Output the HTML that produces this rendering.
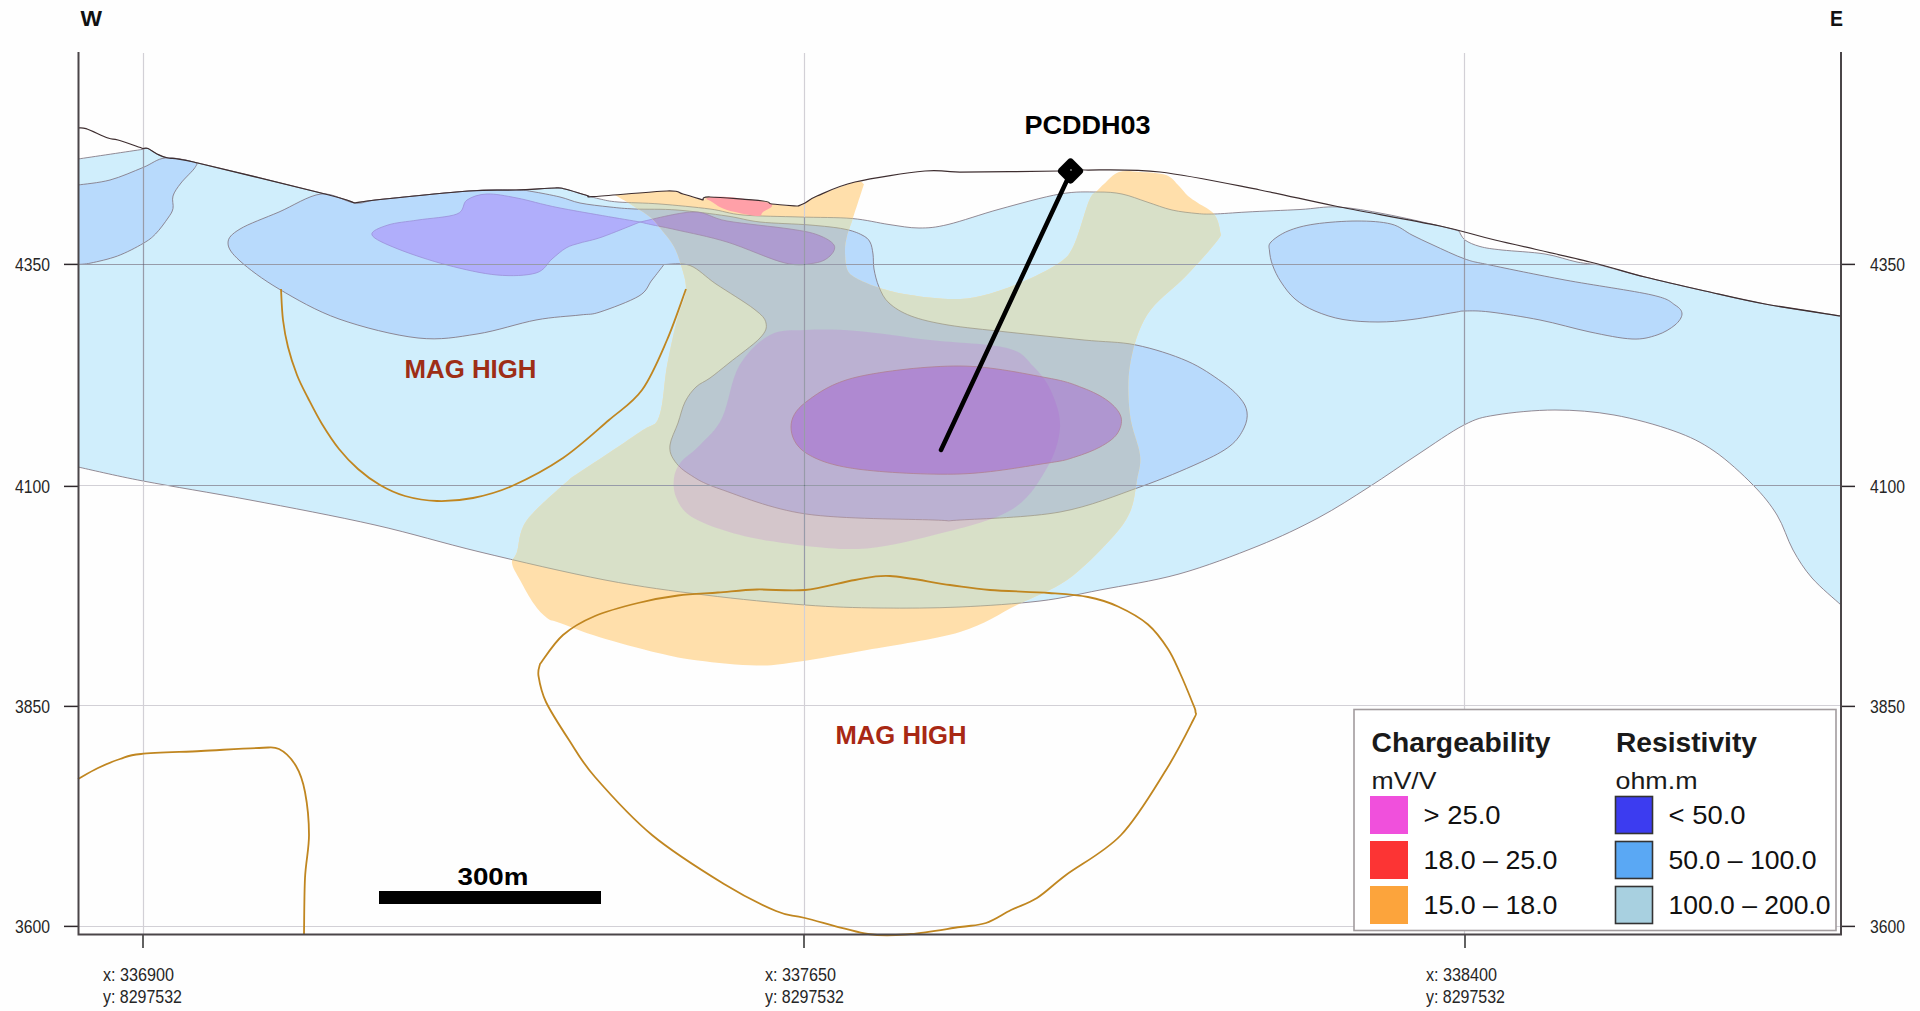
<!DOCTYPE html>
<html><head><meta charset="utf-8"><style>
html,body{margin:0;padding:0;background:#fff;width:1920px;height:1011px;overflow:hidden}
svg{display:block}
text{font-family:"Liberation Sans", sans-serif}
</style></head><body>
<svg width="1920" height="1011" viewBox="0 0 1920 1011">
<rect width="1920" height="1011" fill="#fefefe"/>
<defs><clipPath id="oc"><path d="M615.0,195.0 C618.3,197.0 629.2,203.3 635.0,207.0 C640.8,210.7 645.8,213.5 650.0,217.0 C654.2,220.5 656.2,223.3 660.0,228.0 C663.8,232.7 669.7,239.3 673.0,245.0 C676.3,250.7 677.8,254.5 680.0,262.0 C682.2,269.5 686.5,280.3 686.0,290.0 C685.5,299.7 680.2,307.3 677.0,320.0 C673.8,332.7 670.0,349.8 667.0,366.0 C664.0,382.2 663.5,406.0 659.0,417.0 C654.5,428.0 654.7,421.8 640.0,432.0 C625.3,442.2 582.5,470.3 571.0,478.0 C563.7,485.0 536.0,507.7 527.0,520.0 C518.0,532.3 519.5,544.8 517.0,552.0 C514.5,559.2 511.5,558.3 512.0,563.0 C512.5,567.7 516.3,573.2 520.0,580.0 C523.7,586.8 529.5,597.7 534.0,604.0 C538.5,610.3 542.7,614.8 547.0,618.0 C551.3,621.2 551.3,619.8 560.0,623.0 C568.7,626.2 582.7,632.0 599.0,637.0 C615.3,642.0 641.5,649.1 658.0,653.0 C674.5,656.9 681.5,658.4 698.0,660.5 C714.5,662.6 740.0,665.3 757.0,665.5 C774.0,665.7 781.7,664.1 800.0,661.5 C818.3,658.9 840.3,654.9 867.0,650.0 C893.7,645.1 935.0,639.5 960.0,632.0 C985.0,624.5 999.2,613.7 1017.0,605.0 C1034.8,596.3 1051.5,590.8 1067.0,580.0 C1082.5,569.2 1099.5,551.3 1110.0,540.0 C1120.5,528.7 1125.5,522.0 1130.0,512.0 C1134.5,502.0 1135.3,489.5 1137.0,480.0 C1138.7,470.5 1141.2,465.8 1140.0,455.0 C1138.8,444.2 1131.7,430.0 1130.0,415.0 C1128.3,400.0 1127.2,381.7 1130.0,365.0 C1132.8,348.3 1137.8,329.7 1147.0,315.0 C1156.2,300.3 1173.3,289.3 1185.0,277.0 C1196.7,264.7 1211.2,248.7 1217.0,241.0 C1222.8,233.3 1220.5,235.5 1220.0,231.0 C1219.5,226.5 1217.7,218.7 1214.0,214.0 C1210.3,209.3 1202.3,206.0 1198.0,203.0 C1193.7,200.0 1191.2,198.8 1188.0,196.0 C1184.8,193.2 1182.7,189.5 1179.0,186.0 C1175.3,182.5 1172.5,177.3 1166.0,175.0 C1159.5,172.7 1147.8,172.5 1140.0,172.0 C1132.2,171.5 1125.0,170.0 1119.0,172.0 C1113.0,174.0 1107.7,180.8 1104.0,184.0 C1100.3,187.2 1099.5,188.2 1097.0,191.0 C1094.5,193.8 1092.8,192.0 1089.0,201.0 C1085.2,210.0 1079.0,234.7 1074.0,245.0 C1069.0,255.3 1068.0,256.7 1059.0,263.0 C1050.0,269.3 1033.0,277.5 1020.0,283.0 C1007.0,288.5 993.0,293.3 981.0,296.0 C969.0,298.7 960.8,299.3 948.0,299.0 C935.2,298.7 915.8,296.0 904.0,294.0 C892.2,292.0 885.0,289.7 877.0,287.0 C869.0,284.3 861.0,281.0 856.0,278.0 C851.0,275.0 848.8,273.7 847.0,269.0 C845.2,264.3 845.0,255.5 845.0,250.0 C845.0,244.5 845.7,241.3 847.0,236.0 C848.3,230.7 850.2,226.7 853.0,218.0 C855.8,209.3 862.2,189.7 864.0,184.0 C862.5,183.7 862.8,180.0 855.0,182.0 C847.2,184.0 825.3,192.5 817.0,196.0 C808.7,199.5 808.2,201.3 805.0,203.0 C801.8,204.7 803.5,205.8 798.0,206.0 C792.5,206.2 777.8,204.8 772.0,204.0 C766.2,203.2 773.3,202.2 763.0,201.0 C752.7,199.8 720.0,197.2 710.0,197.0 C700.0,196.8 707.5,200.5 703.0,200.0 C698.5,199.5 689.0,195.5 683.0,194.0 C677.0,192.5 678.3,190.8 667.0,191.0 C655.7,191.2 623.7,194.3 615.0,195.0 Z"/></clipPath><clipPath id="lband"><path d="M78.0,159.0 C88.8,157.4 132.2,150.9 143.0,149.3 C143.8,149.2 145.7,147.7 148.0,148.5 C150.3,149.3 153.7,152.4 157.0,154.0 C160.3,155.6 161.9,156.7 168.0,158.0 C174.1,159.3 167.3,156.0 193.5,162.0 C219.7,168.0 298.1,187.2 325.0,194.0 C351.9,200.8 350.0,201.5 355.0,203.0 C359.2,202.4 361.0,201.5 380.0,199.5 C399.0,197.5 446.3,192.6 469.0,191.0 C491.7,189.4 501.7,190.5 516.0,190.0 C530.3,189.5 546.8,188.2 555.0,188.0 C563.2,187.8 559.7,187.8 565.0,189.0 C570.3,190.2 581.2,193.8 587.0,195.5 C592.8,197.2 594.8,197.9 600.0,199.0 C605.2,200.1 608.0,201.2 618.0,202.0 C628.0,202.8 644.7,202.8 660.0,204.0 C675.3,205.2 696.2,207.2 710.0,209.0 C723.8,210.8 728.0,213.7 743.0,215.0 C758.0,216.3 781.8,216.4 800.0,217.0 C818.2,217.6 837.2,217.2 852.0,218.5 C866.8,219.8 877.8,222.9 889.0,224.5 C900.2,226.1 909.2,228.0 919.0,228.0 C928.8,228.0 934.5,227.7 948.0,224.5 C961.5,221.3 981.3,214.1 1000.0,209.0 C1018.7,203.9 1043.8,196.8 1060.0,194.0 C1076.2,191.2 1086.7,192.0 1097.0,192.0 C1107.3,192.0 1113.7,192.3 1122.0,194.0 C1130.3,195.7 1138.7,199.3 1147.0,202.0 C1155.3,204.7 1163.7,208.1 1172.0,210.0 C1180.3,211.9 1190.0,212.8 1197.0,213.5 C1204.0,214.2 1205.7,214.2 1214.0,214.0 C1222.3,213.8 1232.7,212.8 1247.0,212.0 C1261.3,211.2 1284.8,210.3 1300.0,209.5 C1315.2,208.7 1323.8,206.2 1338.0,207.0 C1352.2,207.8 1368.0,210.8 1385.0,214.0 C1402.0,217.2 1427.7,223.2 1440.0,226.0 C1452.3,228.8 1455.8,230.2 1459.0,231.0 C1460.0,232.5 1461.5,237.4 1465.0,240.0 C1468.5,242.6 1473.8,244.8 1480.0,246.5 C1486.2,248.2 1491.2,248.8 1502.0,250.0 C1512.8,251.2 1532.5,252.0 1545.0,254.0 C1557.5,256.0 1567.8,260.2 1577.0,262.0 C1586.2,263.8 1596.2,264.5 1600.0,265.0 C1607.5,267.0 1627.5,272.7 1645.0,277.0 C1662.5,281.3 1685.0,286.5 1705.0,291.0 C1725.0,295.5 1742.3,299.8 1765.0,304.0 C1787.7,308.2 1828.3,314.0 1841.0,316.0 C1841.0,364.2 1841.0,556.8 1841.0,605.0 C1836.2,600.5 1820.0,587.2 1812.0,578.0 C1804.0,568.8 1798.8,560.5 1793.0,550.0 C1787.2,539.5 1783.7,525.8 1777.0,515.0 C1770.3,504.2 1763.5,495.7 1753.0,485.0 C1742.5,474.3 1727.2,460.0 1714.0,451.0 C1700.8,442.0 1690.7,437.0 1674.0,431.0 C1657.3,425.0 1633.8,418.5 1614.0,415.0 C1594.2,411.5 1574.7,410.0 1555.0,410.0 C1535.3,410.0 1511.2,412.5 1496.0,415.0 C1480.8,417.5 1477.2,418.3 1464.0,425.0 C1450.8,431.7 1432.8,444.7 1417.0,455.0 C1401.2,465.3 1385.5,476.5 1369.0,487.0 C1352.5,497.5 1336.5,508.2 1318.0,518.0 C1299.5,527.8 1281.2,536.7 1258.0,546.0 C1234.8,555.3 1205.3,566.7 1179.0,574.0 C1152.7,581.3 1123.2,585.5 1100.0,590.0 C1076.8,594.5 1063.3,598.2 1040.0,601.0 C1016.7,603.8 986.7,605.8 960.0,607.0 C933.3,608.2 905.8,608.3 880.0,608.0 C854.2,607.7 834.2,607.2 805.0,605.0 C775.8,602.8 738.3,599.2 705.0,595.0 C671.7,590.8 642.5,587.2 605.0,580.0 C567.5,572.8 518.3,561.2 480.0,552.0 C441.7,542.8 413.3,533.7 375.0,525.0 C336.7,516.3 288.7,507.3 250.0,500.0 C211.3,492.7 171.7,486.5 143.0,481.0 C114.3,475.5 88.8,469.3 78.0,467.0 C78.0,415.7 78.0,210.3 78.0,159.0 Z"/></clipPath><clipPath id="plot"><rect x="78" y="52" width="1763" height="882"/></clipPath></defs>
<g clip-path="url(#plot)"><path d="M78.0,159.0 C88.8,157.4 132.2,150.9 143.0,149.3 C143.8,149.2 145.7,147.7 148.0,148.5 C150.3,149.3 153.7,152.4 157.0,154.0 C160.3,155.6 161.9,156.7 168.0,158.0 C174.1,159.3 167.3,156.0 193.5,162.0 C219.7,168.0 298.1,187.2 325.0,194.0 C351.9,200.8 350.0,201.5 355.0,203.0 C359.2,202.4 361.0,201.5 380.0,199.5 C399.0,197.5 446.3,192.6 469.0,191.0 C491.7,189.4 501.7,190.5 516.0,190.0 C530.3,189.5 546.8,188.2 555.0,188.0 C563.2,187.8 559.7,187.8 565.0,189.0 C570.3,190.2 581.2,193.8 587.0,195.5 C592.8,197.2 594.8,197.9 600.0,199.0 C605.2,200.1 608.0,201.2 618.0,202.0 C628.0,202.8 644.7,202.8 660.0,204.0 C675.3,205.2 696.2,207.2 710.0,209.0 C723.8,210.8 728.0,213.7 743.0,215.0 C758.0,216.3 781.8,216.4 800.0,217.0 C818.2,217.6 837.2,217.2 852.0,218.5 C866.8,219.8 877.8,222.9 889.0,224.5 C900.2,226.1 909.2,228.0 919.0,228.0 C928.8,228.0 934.5,227.7 948.0,224.5 C961.5,221.3 981.3,214.1 1000.0,209.0 C1018.7,203.9 1043.8,196.8 1060.0,194.0 C1076.2,191.2 1086.7,192.0 1097.0,192.0 C1107.3,192.0 1113.7,192.3 1122.0,194.0 C1130.3,195.7 1138.7,199.3 1147.0,202.0 C1155.3,204.7 1163.7,208.1 1172.0,210.0 C1180.3,211.9 1190.0,212.8 1197.0,213.5 C1204.0,214.2 1205.7,214.2 1214.0,214.0 C1222.3,213.8 1232.7,212.8 1247.0,212.0 C1261.3,211.2 1284.8,210.3 1300.0,209.5 C1315.2,208.7 1323.8,206.2 1338.0,207.0 C1352.2,207.8 1368.0,210.8 1385.0,214.0 C1402.0,217.2 1427.7,223.2 1440.0,226.0 C1452.3,228.8 1455.8,230.2 1459.0,231.0 C1460.0,232.5 1461.5,237.4 1465.0,240.0 C1468.5,242.6 1473.8,244.8 1480.0,246.5 C1486.2,248.2 1491.2,248.8 1502.0,250.0 C1512.8,251.2 1532.5,252.0 1545.0,254.0 C1557.5,256.0 1567.8,260.2 1577.0,262.0 C1586.2,263.8 1596.2,264.5 1600.0,265.0 C1607.5,267.0 1627.5,272.7 1645.0,277.0 C1662.5,281.3 1685.0,286.5 1705.0,291.0 C1725.0,295.5 1742.3,299.8 1765.0,304.0 C1787.7,308.2 1828.3,314.0 1841.0,316.0 C1841.0,364.2 1841.0,556.8 1841.0,605.0 C1836.2,600.5 1820.0,587.2 1812.0,578.0 C1804.0,568.8 1798.8,560.5 1793.0,550.0 C1787.2,539.5 1783.7,525.8 1777.0,515.0 C1770.3,504.2 1763.5,495.7 1753.0,485.0 C1742.5,474.3 1727.2,460.0 1714.0,451.0 C1700.8,442.0 1690.7,437.0 1674.0,431.0 C1657.3,425.0 1633.8,418.5 1614.0,415.0 C1594.2,411.5 1574.7,410.0 1555.0,410.0 C1535.3,410.0 1511.2,412.5 1496.0,415.0 C1480.8,417.5 1477.2,418.3 1464.0,425.0 C1450.8,431.7 1432.8,444.7 1417.0,455.0 C1401.2,465.3 1385.5,476.5 1369.0,487.0 C1352.5,497.5 1336.5,508.2 1318.0,518.0 C1299.5,527.8 1281.2,536.7 1258.0,546.0 C1234.8,555.3 1205.3,566.7 1179.0,574.0 C1152.7,581.3 1123.2,585.5 1100.0,590.0 C1076.8,594.5 1063.3,598.2 1040.0,601.0 C1016.7,603.8 986.7,605.8 960.0,607.0 C933.3,608.2 905.8,608.3 880.0,608.0 C854.2,607.7 834.2,607.2 805.0,605.0 C775.8,602.8 738.3,599.2 705.0,595.0 C671.7,590.8 642.5,587.2 605.0,580.0 C567.5,572.8 518.3,561.2 480.0,552.0 C441.7,542.8 413.3,533.7 375.0,525.0 C336.7,516.3 288.7,507.3 250.0,500.0 C211.3,492.7 171.7,486.5 143.0,481.0 C114.3,475.5 88.8,469.3 78.0,467.0 C78.0,415.7 78.0,210.3 78.0,159.0 Z" fill="#d0eefc" stroke="#7c6e7a" stroke-width="0.8" /><path d="M78.0,185.0 C83.3,184.2 99.2,182.9 110.0,180.0 C120.8,177.1 133.8,171.2 143.0,167.5 C152.2,163.8 156.6,158.9 165.0,158.0 C173.4,157.1 188.5,160.4 193.5,162.0 C198.5,163.6 197.1,164.0 195.0,167.5 C192.9,171.0 184.7,178.2 181.0,183.0 C177.3,187.8 174.3,191.8 173.0,196.0 C171.7,200.2 173.8,204.8 173.0,208.5 C172.2,212.2 170.9,213.8 168.0,218.0 C165.1,222.2 159.7,229.8 155.5,234.0 C151.3,238.2 149.3,239.8 143.0,243.5 C136.7,247.2 126.2,252.8 117.5,256.0 C108.8,259.2 97.6,261.6 91.0,263.0 C84.4,264.4 80.2,264.2 78.0,264.5 C78.0,251.2 78.0,198.2 78.0,185.0 Z" fill="#b8dafc" stroke="#7c6e7a" stroke-width="0.8" /><path d="M228.0,243.0 C228.0,237.7 231.5,234.2 240.0,229.0 C248.5,223.8 265.5,217.8 279.0,212.0 C292.5,206.2 308.3,195.5 321.0,194.0 C333.7,192.5 345.2,202.1 355.0,203.0 C364.8,203.9 361.0,201.5 380.0,199.5 C399.0,197.5 446.3,192.6 469.0,191.0 C491.7,189.4 505.5,189.9 516.0,190.0 C526.5,190.1 524.7,190.3 532.0,191.5 C539.3,192.7 552.0,195.1 560.0,197.0 C568.0,198.9 571.7,201.3 580.0,203.0 C588.3,204.7 600.8,206.0 610.0,207.0 C619.2,208.0 623.8,208.5 635.0,209.0 C646.2,209.5 661.7,208.8 677.0,210.0 C692.3,211.2 713.2,214.0 727.0,216.0 C740.8,218.0 746.2,220.5 760.0,222.0 C773.8,223.5 796.0,223.8 810.0,225.0 C824.0,226.2 835.3,227.3 844.0,229.0 C852.7,230.7 857.7,232.8 862.0,235.0 C866.3,237.2 868.2,238.8 870.0,242.0 C871.8,245.2 872.3,249.5 873.0,254.0 C873.7,258.5 873.0,263.5 874.0,269.0 C875.0,274.5 876.5,281.3 879.0,287.0 C881.5,292.7 883.7,298.2 889.0,303.0 C894.3,307.8 901.2,312.3 911.0,316.0 C920.8,319.7 932.0,322.3 948.0,325.0 C964.0,327.7 984.3,329.5 1007.0,332.0 C1029.7,334.5 1062.5,337.8 1084.0,340.0 C1105.5,342.2 1118.8,341.5 1136.0,345.0 C1153.2,348.5 1172.7,354.8 1187.0,361.0 C1201.3,367.2 1213.2,375.8 1222.0,382.0 C1230.8,388.2 1235.8,393.0 1240.0,398.0 C1244.2,403.0 1246.3,407.0 1247.0,412.0 C1247.7,417.0 1246.8,422.3 1244.0,428.0 C1241.2,433.7 1237.5,440.2 1230.0,446.0 C1222.5,451.8 1214.0,456.2 1199.0,463.0 C1184.0,469.8 1163.2,478.8 1140.0,487.0 C1116.8,495.2 1090.0,506.5 1060.0,512.0 C1030.0,517.5 981.0,518.7 960.0,520.0 C939.0,521.3 959.7,521.0 934.0,520.0 C908.3,519.0 841.7,519.2 806.0,514.0 C770.3,508.8 739.5,495.7 720.0,489.0 C700.5,482.3 696.7,478.8 689.0,474.0 C681.3,469.2 677.2,464.8 674.0,460.0 C670.8,455.2 669.3,451.2 670.0,445.0 C670.7,438.8 675.5,430.2 678.0,423.0 C680.5,415.8 682.0,408.0 685.0,402.0 C688.0,396.0 691.8,391.0 696.0,387.0 C700.2,383.0 704.5,382.0 710.0,378.0 C715.5,374.0 720.7,369.7 729.0,363.0 C737.3,356.3 753.8,344.7 760.0,338.0 C766.2,331.3 767.0,327.8 766.0,323.0 C765.0,318.2 762.3,315.5 754.0,309.0 C745.7,302.5 726.7,291.2 716.0,284.0 C705.3,276.8 698.7,268.8 690.0,265.5 C681.3,262.2 668.3,264.7 664.0,264.5 C662.0,267.1 656.2,274.8 652.0,280.0 C647.8,285.2 647.7,290.7 639.0,296.0 C630.3,301.3 609.8,308.8 600.0,312.0 C590.2,315.2 590.7,313.7 580.0,315.0 C569.3,316.3 553.2,316.8 536.0,320.0 C518.8,323.2 496.7,331.0 477.0,334.0 C457.3,337.0 441.0,340.5 418.0,338.0 C395.0,335.5 362.2,327.2 339.0,319.0 C315.8,310.8 295.5,298.7 279.0,289.0 C262.5,279.3 248.5,268.7 240.0,261.0 C231.5,253.3 228.0,248.3 228.0,243.0 Z" fill="#b8dafc" stroke="#7c6e7a" stroke-width="0.8" /><path d="M1271.0,242.0 C1274.1,238.7 1280.7,234.0 1288.0,231.0 C1295.3,228.0 1303.5,225.7 1315.0,224.0 C1326.5,222.3 1344.3,221.0 1357.0,221.0 C1369.7,221.0 1381.8,221.7 1391.0,224.0 C1400.2,226.3 1405.0,231.5 1412.0,235.0 C1419.0,238.5 1424.2,241.0 1433.0,245.0 C1441.8,249.0 1455.5,255.7 1465.0,259.0 C1474.5,262.3 1473.3,261.5 1490.0,265.0 C1506.7,268.5 1538.0,275.0 1565.0,280.0 C1592.0,285.0 1633.7,290.8 1652.0,295.0 C1670.3,299.2 1670.0,301.8 1675.0,305.0 C1680.0,308.2 1682.0,310.7 1682.0,314.0 C1682.0,317.3 1679.2,321.5 1675.0,325.0 C1670.8,328.5 1664.2,332.7 1657.0,335.0 C1649.8,337.3 1643.2,339.5 1632.0,339.0 C1620.8,338.5 1605.3,335.2 1590.0,332.0 C1574.7,328.8 1556.7,323.3 1540.0,320.0 C1523.3,316.7 1502.5,313.5 1490.0,312.0 C1477.5,310.5 1471.0,310.9 1465.0,311.0 C1459.0,311.1 1462.8,311.1 1454.0,312.5 C1445.2,313.9 1424.7,317.9 1412.0,319.5 C1399.3,321.1 1389.5,322.0 1378.0,322.0 C1366.5,322.0 1353.5,321.3 1343.0,319.5 C1332.5,317.7 1323.0,314.4 1315.0,311.0 C1307.0,307.6 1300.7,303.8 1295.0,299.0 C1289.3,294.2 1284.8,287.7 1281.0,282.0 C1277.2,276.3 1274.4,270.2 1272.5,265.0 C1270.6,259.8 1269.8,254.8 1269.5,251.0 C1269.2,247.2 1267.9,245.3 1271.0,242.0 Z" fill="#b8dafc" stroke="#7c6e7a" stroke-width="0.8" /><path d="M372.0,235.0 C370.3,231.0 380.3,227.5 388.0,225.0 C395.7,222.5 406.5,221.8 418.0,220.0 C429.5,218.2 448.8,217.3 457.0,214.0 C465.2,210.7 462.0,203.3 467.0,200.0 C472.0,196.7 478.7,194.3 487.0,194.0 C495.3,193.7 504.8,195.7 517.0,198.0 C529.2,200.3 539.5,204.0 560.0,208.0 C580.5,212.0 626.7,219.7 640.0,222.0 C648.8,220.3 678.5,212.2 693.0,212.0 C707.5,211.8 710.8,218.2 727.0,221.0 C743.2,223.8 774.8,226.7 790.0,229.0 C805.2,231.3 810.7,232.3 818.0,235.0 C825.3,237.7 832.0,241.5 834.0,245.0 C836.0,248.5 833.2,253.0 830.0,256.0 C826.8,259.0 822.5,261.8 815.0,263.0 C807.5,264.2 799.7,266.5 785.0,263.0 C770.3,259.5 745.0,247.5 727.0,242.0 C709.0,236.5 689.3,232.8 677.0,230.0 C664.7,227.2 659.2,226.3 653.0,225.0 C646.8,223.7 642.2,222.5 640.0,222.0 C633.7,224.5 612.0,233.5 602.0,237.0 C592.0,240.5 586.0,241.2 580.0,243.0 C574.0,244.8 570.7,245.3 566.0,248.0 C561.3,250.7 557.0,254.8 552.0,259.0 C547.0,263.2 545.2,270.3 536.0,273.0 C526.8,275.7 511.8,276.3 497.0,275.0 C482.2,273.7 463.5,269.3 447.0,265.0 C430.5,260.7 410.5,254.0 398.0,249.0 C385.5,244.0 373.7,239.0 372.0,235.0 Z" fill="#b0aefb" stroke="#9a90d8" stroke-width="0.8" /><path d="M615.0,195.0 C618.3,197.0 629.2,203.3 635.0,207.0 C640.8,210.7 645.8,213.5 650.0,217.0 C654.2,220.5 656.2,223.3 660.0,228.0 C663.8,232.7 669.7,239.3 673.0,245.0 C676.3,250.7 677.8,254.5 680.0,262.0 C682.2,269.5 686.5,280.3 686.0,290.0 C685.5,299.7 680.2,307.3 677.0,320.0 C673.8,332.7 670.0,349.8 667.0,366.0 C664.0,382.2 663.5,406.0 659.0,417.0 C654.5,428.0 654.7,421.8 640.0,432.0 C625.3,442.2 582.5,470.3 571.0,478.0 C563.7,485.0 536.0,507.7 527.0,520.0 C518.0,532.3 519.5,544.8 517.0,552.0 C514.5,559.2 511.5,558.3 512.0,563.0 C512.5,567.7 516.3,573.2 520.0,580.0 C523.7,586.8 529.5,597.7 534.0,604.0 C538.5,610.3 542.7,614.8 547.0,618.0 C551.3,621.2 551.3,619.8 560.0,623.0 C568.7,626.2 582.7,632.0 599.0,637.0 C615.3,642.0 641.5,649.1 658.0,653.0 C674.5,656.9 681.5,658.4 698.0,660.5 C714.5,662.6 740.0,665.3 757.0,665.5 C774.0,665.7 781.7,664.1 800.0,661.5 C818.3,658.9 840.3,654.9 867.0,650.0 C893.7,645.1 935.0,639.5 960.0,632.0 C985.0,624.5 999.2,613.7 1017.0,605.0 C1034.8,596.3 1051.5,590.8 1067.0,580.0 C1082.5,569.2 1099.5,551.3 1110.0,540.0 C1120.5,528.7 1125.5,522.0 1130.0,512.0 C1134.5,502.0 1135.3,489.5 1137.0,480.0 C1138.7,470.5 1141.2,465.8 1140.0,455.0 C1138.8,444.2 1131.7,430.0 1130.0,415.0 C1128.3,400.0 1127.2,381.7 1130.0,365.0 C1132.8,348.3 1137.8,329.7 1147.0,315.0 C1156.2,300.3 1173.3,289.3 1185.0,277.0 C1196.7,264.7 1211.2,248.7 1217.0,241.0 C1222.8,233.3 1220.5,235.5 1220.0,231.0 C1219.5,226.5 1217.7,218.7 1214.0,214.0 C1210.3,209.3 1202.3,206.0 1198.0,203.0 C1193.7,200.0 1191.2,198.8 1188.0,196.0 C1184.8,193.2 1182.7,189.5 1179.0,186.0 C1175.3,182.5 1172.5,177.3 1166.0,175.0 C1159.5,172.7 1147.8,172.5 1140.0,172.0 C1132.2,171.5 1125.0,170.0 1119.0,172.0 C1113.0,174.0 1107.7,180.8 1104.0,184.0 C1100.3,187.2 1099.5,188.2 1097.0,191.0 C1094.5,193.8 1092.8,192.0 1089.0,201.0 C1085.2,210.0 1079.0,234.7 1074.0,245.0 C1069.0,255.3 1068.0,256.7 1059.0,263.0 C1050.0,269.3 1033.0,277.5 1020.0,283.0 C1007.0,288.5 993.0,293.3 981.0,296.0 C969.0,298.7 960.8,299.3 948.0,299.0 C935.2,298.7 915.8,296.0 904.0,294.0 C892.2,292.0 885.0,289.7 877.0,287.0 C869.0,284.3 861.0,281.0 856.0,278.0 C851.0,275.0 848.8,273.7 847.0,269.0 C845.2,264.3 845.0,255.5 845.0,250.0 C845.0,244.5 845.7,241.3 847.0,236.0 C848.3,230.7 850.2,226.7 853.0,218.0 C855.8,209.3 862.2,189.7 864.0,184.0 C862.5,183.7 862.8,180.0 855.0,182.0 C847.2,184.0 825.3,192.5 817.0,196.0 C808.7,199.5 808.2,201.3 805.0,203.0 C801.8,204.7 803.5,205.8 798.0,206.0 C792.5,206.2 777.8,204.8 772.0,204.0 C766.2,203.2 773.3,202.2 763.0,201.0 C752.7,199.8 720.0,197.2 710.0,197.0 C700.0,196.8 707.5,200.5 703.0,200.0 C698.5,199.5 689.0,195.5 683.0,194.0 C677.0,192.5 678.3,190.8 667.0,191.0 C655.7,191.2 623.7,194.3 615.0,195.0 Z" fill="#ffdfab" stroke="none" stroke-width="1" /><g clip-path="url(#oc)"><path d="M78.0,159.0 C88.8,157.4 132.2,150.9 143.0,149.3 C143.8,149.2 145.7,147.7 148.0,148.5 C150.3,149.3 153.7,152.4 157.0,154.0 C160.3,155.6 161.9,156.7 168.0,158.0 C174.1,159.3 167.3,156.0 193.5,162.0 C219.7,168.0 298.1,187.2 325.0,194.0 C351.9,200.8 350.0,201.5 355.0,203.0 C359.2,202.4 361.0,201.5 380.0,199.5 C399.0,197.5 446.3,192.6 469.0,191.0 C491.7,189.4 501.7,190.5 516.0,190.0 C530.3,189.5 546.8,188.2 555.0,188.0 C563.2,187.8 559.7,187.8 565.0,189.0 C570.3,190.2 581.2,193.8 587.0,195.5 C592.8,197.2 594.8,197.9 600.0,199.0 C605.2,200.1 608.0,201.2 618.0,202.0 C628.0,202.8 644.7,202.8 660.0,204.0 C675.3,205.2 696.2,207.2 710.0,209.0 C723.8,210.8 728.0,213.7 743.0,215.0 C758.0,216.3 781.8,216.4 800.0,217.0 C818.2,217.6 837.2,217.2 852.0,218.5 C866.8,219.8 877.8,222.9 889.0,224.5 C900.2,226.1 909.2,228.0 919.0,228.0 C928.8,228.0 934.5,227.7 948.0,224.5 C961.5,221.3 981.3,214.1 1000.0,209.0 C1018.7,203.9 1043.8,196.8 1060.0,194.0 C1076.2,191.2 1086.7,192.0 1097.0,192.0 C1107.3,192.0 1113.7,192.3 1122.0,194.0 C1130.3,195.7 1138.7,199.3 1147.0,202.0 C1155.3,204.7 1163.7,208.1 1172.0,210.0 C1180.3,211.9 1190.0,212.8 1197.0,213.5 C1204.0,214.2 1205.7,214.2 1214.0,214.0 C1222.3,213.8 1232.7,212.8 1247.0,212.0 C1261.3,211.2 1284.8,210.3 1300.0,209.5 C1315.2,208.7 1323.8,206.2 1338.0,207.0 C1352.2,207.8 1368.0,210.8 1385.0,214.0 C1402.0,217.2 1427.7,223.2 1440.0,226.0 C1452.3,228.8 1455.8,230.2 1459.0,231.0 C1460.0,232.5 1461.5,237.4 1465.0,240.0 C1468.5,242.6 1473.8,244.8 1480.0,246.5 C1486.2,248.2 1491.2,248.8 1502.0,250.0 C1512.8,251.2 1532.5,252.0 1545.0,254.0 C1557.5,256.0 1567.8,260.2 1577.0,262.0 C1586.2,263.8 1596.2,264.5 1600.0,265.0 C1607.5,267.0 1627.5,272.7 1645.0,277.0 C1662.5,281.3 1685.0,286.5 1705.0,291.0 C1725.0,295.5 1742.3,299.8 1765.0,304.0 C1787.7,308.2 1828.3,314.0 1841.0,316.0 C1841.0,364.2 1841.0,556.8 1841.0,605.0 C1836.2,600.5 1820.0,587.2 1812.0,578.0 C1804.0,568.8 1798.8,560.5 1793.0,550.0 C1787.2,539.5 1783.7,525.8 1777.0,515.0 C1770.3,504.2 1763.5,495.7 1753.0,485.0 C1742.5,474.3 1727.2,460.0 1714.0,451.0 C1700.8,442.0 1690.7,437.0 1674.0,431.0 C1657.3,425.0 1633.8,418.5 1614.0,415.0 C1594.2,411.5 1574.7,410.0 1555.0,410.0 C1535.3,410.0 1511.2,412.5 1496.0,415.0 C1480.8,417.5 1477.2,418.3 1464.0,425.0 C1450.8,431.7 1432.8,444.7 1417.0,455.0 C1401.2,465.3 1385.5,476.5 1369.0,487.0 C1352.5,497.5 1336.5,508.2 1318.0,518.0 C1299.5,527.8 1281.2,536.7 1258.0,546.0 C1234.8,555.3 1205.3,566.7 1179.0,574.0 C1152.7,581.3 1123.2,585.5 1100.0,590.0 C1076.8,594.5 1063.3,598.2 1040.0,601.0 C1016.7,603.8 986.7,605.8 960.0,607.0 C933.3,608.2 905.8,608.3 880.0,608.0 C854.2,607.7 834.2,607.2 805.0,605.0 C775.8,602.8 738.3,599.2 705.0,595.0 C671.7,590.8 642.5,587.2 605.0,580.0 C567.5,572.8 518.3,561.2 480.0,552.0 C441.7,542.8 413.3,533.7 375.0,525.0 C336.7,516.3 288.7,507.3 250.0,500.0 C211.3,492.7 171.7,486.5 143.0,481.0 C114.3,475.5 88.8,469.3 78.0,467.0 C78.0,415.7 78.0,210.3 78.0,159.0 Z" fill="#d8e0c8" stroke="#a09a88" stroke-width="0.8" /><path d="M78.0,185.0 C83.3,184.2 99.2,182.9 110.0,180.0 C120.8,177.1 133.8,171.2 143.0,167.5 C152.2,163.8 156.6,158.9 165.0,158.0 C173.4,157.1 188.5,160.4 193.5,162.0 C198.5,163.6 197.1,164.0 195.0,167.5 C192.9,171.0 184.7,178.2 181.0,183.0 C177.3,187.8 174.3,191.8 173.0,196.0 C171.7,200.2 173.8,204.8 173.0,208.5 C172.2,212.2 170.9,213.8 168.0,218.0 C165.1,222.2 159.7,229.8 155.5,234.0 C151.3,238.2 149.3,239.8 143.0,243.5 C136.7,247.2 126.2,252.8 117.5,256.0 C108.8,259.2 97.6,261.6 91.0,263.0 C84.4,264.4 80.2,264.2 78.0,264.5 C78.0,251.2 78.0,198.2 78.0,185.0 Z" fill="#bac8d0" stroke="#a09a88" stroke-width="0.8" /><path d="M228.0,243.0 C228.0,237.7 231.5,234.2 240.0,229.0 C248.5,223.8 265.5,217.8 279.0,212.0 C292.5,206.2 308.3,195.5 321.0,194.0 C333.7,192.5 345.2,202.1 355.0,203.0 C364.8,203.9 361.0,201.5 380.0,199.5 C399.0,197.5 446.3,192.6 469.0,191.0 C491.7,189.4 505.5,189.9 516.0,190.0 C526.5,190.1 524.7,190.3 532.0,191.5 C539.3,192.7 552.0,195.1 560.0,197.0 C568.0,198.9 571.7,201.3 580.0,203.0 C588.3,204.7 600.8,206.0 610.0,207.0 C619.2,208.0 623.8,208.5 635.0,209.0 C646.2,209.5 661.7,208.8 677.0,210.0 C692.3,211.2 713.2,214.0 727.0,216.0 C740.8,218.0 746.2,220.5 760.0,222.0 C773.8,223.5 796.0,223.8 810.0,225.0 C824.0,226.2 835.3,227.3 844.0,229.0 C852.7,230.7 857.7,232.8 862.0,235.0 C866.3,237.2 868.2,238.8 870.0,242.0 C871.8,245.2 872.3,249.5 873.0,254.0 C873.7,258.5 873.0,263.5 874.0,269.0 C875.0,274.5 876.5,281.3 879.0,287.0 C881.5,292.7 883.7,298.2 889.0,303.0 C894.3,307.8 901.2,312.3 911.0,316.0 C920.8,319.7 932.0,322.3 948.0,325.0 C964.0,327.7 984.3,329.5 1007.0,332.0 C1029.7,334.5 1062.5,337.8 1084.0,340.0 C1105.5,342.2 1118.8,341.5 1136.0,345.0 C1153.2,348.5 1172.7,354.8 1187.0,361.0 C1201.3,367.2 1213.2,375.8 1222.0,382.0 C1230.8,388.2 1235.8,393.0 1240.0,398.0 C1244.2,403.0 1246.3,407.0 1247.0,412.0 C1247.7,417.0 1246.8,422.3 1244.0,428.0 C1241.2,433.7 1237.5,440.2 1230.0,446.0 C1222.5,451.8 1214.0,456.2 1199.0,463.0 C1184.0,469.8 1163.2,478.8 1140.0,487.0 C1116.8,495.2 1090.0,506.5 1060.0,512.0 C1030.0,517.5 981.0,518.7 960.0,520.0 C939.0,521.3 959.7,521.0 934.0,520.0 C908.3,519.0 841.7,519.2 806.0,514.0 C770.3,508.8 739.5,495.7 720.0,489.0 C700.5,482.3 696.7,478.8 689.0,474.0 C681.3,469.2 677.2,464.8 674.0,460.0 C670.8,455.2 669.3,451.2 670.0,445.0 C670.7,438.8 675.5,430.2 678.0,423.0 C680.5,415.8 682.0,408.0 685.0,402.0 C688.0,396.0 691.8,391.0 696.0,387.0 C700.2,383.0 704.5,382.0 710.0,378.0 C715.5,374.0 720.7,369.7 729.0,363.0 C737.3,356.3 753.8,344.7 760.0,338.0 C766.2,331.3 767.0,327.8 766.0,323.0 C765.0,318.2 762.3,315.5 754.0,309.0 C745.7,302.5 726.7,291.2 716.0,284.0 C705.3,276.8 698.7,268.8 690.0,265.5 C681.3,262.2 668.3,264.7 664.0,264.5 C662.0,267.1 656.2,274.8 652.0,280.0 C647.8,285.2 647.7,290.7 639.0,296.0 C630.3,301.3 609.8,308.8 600.0,312.0 C590.2,315.2 590.7,313.7 580.0,315.0 C569.3,316.3 553.2,316.8 536.0,320.0 C518.8,323.2 496.7,331.0 477.0,334.0 C457.3,337.0 441.0,340.5 418.0,338.0 C395.0,335.5 362.2,327.2 339.0,319.0 C315.8,310.8 295.5,298.7 279.0,289.0 C262.5,279.3 248.5,268.7 240.0,261.0 C231.5,253.3 228.0,248.3 228.0,243.0 Z" fill="#bac8d0" stroke="#a09a88" stroke-width="0.8" /><path d="M372.0,235.0 C370.3,231.0 380.3,227.5 388.0,225.0 C395.7,222.5 406.5,221.8 418.0,220.0 C429.5,218.2 448.8,217.3 457.0,214.0 C465.2,210.7 462.0,203.3 467.0,200.0 C472.0,196.7 478.7,194.3 487.0,194.0 C495.3,193.7 504.8,195.7 517.0,198.0 C529.2,200.3 539.5,204.0 560.0,208.0 C580.5,212.0 626.7,219.7 640.0,222.0 C648.8,220.3 678.5,212.2 693.0,212.0 C707.5,211.8 710.8,218.2 727.0,221.0 C743.2,223.8 774.8,226.7 790.0,229.0 C805.2,231.3 810.7,232.3 818.0,235.0 C825.3,237.7 832.0,241.5 834.0,245.0 C836.0,248.5 833.2,253.0 830.0,256.0 C826.8,259.0 822.5,261.8 815.0,263.0 C807.5,264.2 799.7,266.5 785.0,263.0 C770.3,259.5 745.0,247.5 727.0,242.0 C709.0,236.5 689.3,232.8 677.0,230.0 C664.7,227.2 659.2,226.3 653.0,225.0 C646.8,223.7 642.2,222.5 640.0,222.0 C633.7,224.5 612.0,233.5 602.0,237.0 C592.0,240.5 586.0,241.2 580.0,243.0 C574.0,244.8 570.7,245.3 566.0,248.0 C561.3,250.7 557.0,254.8 552.0,259.0 C547.0,263.2 545.2,270.3 536.0,273.0 C526.8,275.7 511.8,276.3 497.0,275.0 C482.2,273.7 463.5,269.3 447.0,265.0 C430.5,260.7 410.5,254.0 398.0,249.0 C385.5,244.0 373.7,239.0 372.0,235.0 Z" fill="#ae9cd0" stroke="#a08aa8" stroke-width="0.8" /></g><path d="M707.0,198.0 C709.5,197.2 717.3,196.3 727.0,197.0 C736.7,197.7 757.5,200.5 765.0,202.0 C772.5,203.5 772.3,204.3 772.0,206.0 C771.7,207.7 765.5,210.3 763.0,212.0 C760.5,213.7 763.0,216.3 757.0,216.0 C751.0,215.7 734.5,212.3 727.0,210.0 C719.5,207.7 715.3,204.0 712.0,202.0 C708.7,200.0 704.5,198.8 707.0,198.0 Z" fill="#ffa0a8" stroke="none" stroke-width="1" /><path d="M806.0,330.0 C820.5,329.3 836.3,329.3 857.0,331.0 C877.7,332.7 905.0,337.2 930.0,340.0 C955.0,342.8 989.8,343.7 1007.0,348.0 C1024.2,352.3 1025.7,358.8 1033.0,366.0 C1040.3,373.2 1046.5,380.8 1051.0,391.0 C1055.5,401.2 1060.7,414.2 1060.0,427.0 C1059.3,439.8 1055.2,454.2 1047.0,468.0 C1038.8,481.8 1029.8,498.8 1011.0,510.0 C992.2,521.2 959.7,528.5 934.0,535.0 C908.3,541.5 884.3,548.0 857.0,549.0 C829.7,550.0 792.8,544.3 770.0,541.0 C747.2,537.7 733.5,533.3 720.0,529.0 C706.5,524.7 696.3,520.3 689.0,515.0 C681.7,509.7 678.5,503.2 676.0,497.0 C673.5,490.8 673.2,483.8 674.0,478.0 C674.8,472.2 676.7,467.5 681.0,462.0 C685.3,456.5 693.2,452.3 700.0,445.0 C706.8,437.7 715.5,431.2 722.0,418.0 C728.5,404.8 731.0,379.8 739.0,366.0 C747.0,352.2 758.8,341.0 770.0,335.0 C781.2,329.0 791.5,330.7 806.0,330.0 Z" fill="#c040e0" stroke="none" stroke-width="0" fill-opacity="0.16"/><path d="M791.0,427.0 C791.0,418.5 795.0,410.3 806.0,402.0 C817.0,393.7 831.3,383.0 857.0,377.0 C882.7,371.0 928.2,365.8 960.0,366.0 C991.8,366.2 1027.5,374.3 1048.0,378.0 C1068.5,381.7 1073.0,384.2 1083.0,388.0 C1093.0,391.8 1101.7,396.2 1108.0,401.0 C1114.3,405.8 1119.5,411.5 1121.0,417.0 C1122.5,422.5 1120.5,429.0 1117.0,434.0 C1113.5,439.0 1107.0,443.2 1100.0,447.0 C1093.0,450.8 1083.7,454.3 1075.0,457.0 C1066.3,459.7 1067.2,460.2 1048.0,463.0 C1028.8,465.8 991.8,473.0 960.0,474.0 C928.2,475.0 882.7,472.5 857.0,469.0 C831.3,465.5 817.0,460.0 806.0,453.0 C795.0,446.0 791.0,435.5 791.0,427.0 Z" fill="#a050d0" stroke="#b08090" stroke-width="0.8" fill-opacity="0.42"/></g>
<g stroke="#d2d0d6" stroke-width="1.2"><line x1="143.5" y1="53" x2="143.5" y2="934" /><line x1="804.5" y1="53" x2="804.5" y2="934" /><line x1="1464.5" y1="53" x2="1464.5" y2="934" /><line x1="78" y1="264.5" x2="1841" y2="264.5" /><line x1="78" y1="485.5" x2="1841" y2="485.5" /><line x1="78" y1="705.5" x2="1841" y2="705.5" /><line x1="78" y1="926.5" x2="1841" y2="926.5" /></g><g clip-path="url(#lband)" stroke="rgba(30,50,80,0.33)" stroke-width="1.2"><line x1="143.5" y1="53" x2="143.5" y2="934" /><line x1="804.5" y1="53" x2="804.5" y2="934" /><line x1="1464.5" y1="53" x2="1464.5" y2="934" /><line x1="78" y1="264.5" x2="1841" y2="264.5" /><line x1="78" y1="485.5" x2="1841" y2="485.5" /><line x1="78" y1="705.5" x2="1841" y2="705.5" /><line x1="78" y1="926.5" x2="1841" y2="926.5" /></g>
<line x1="64" y1="264.4" x2="78" y2="264.4" stroke="#2e282c" stroke-width="1.5"/><line x1="1841" y1="264.4" x2="1855" y2="264.4" stroke="#2e282c" stroke-width="1.5"/><line x1="64" y1="486.4" x2="78" y2="486.4" stroke="#2e282c" stroke-width="1.5"/><line x1="1841" y1="486.4" x2="1855" y2="486.4" stroke="#2e282c" stroke-width="1.5"/><line x1="64" y1="706.4" x2="78" y2="706.4" stroke="#2e282c" stroke-width="1.5"/><line x1="1841" y1="706.4" x2="1855" y2="706.4" stroke="#2e282c" stroke-width="1.5"/><line x1="64" y1="926.4" x2="78" y2="926.4" stroke="#2e282c" stroke-width="1.5"/><line x1="1841" y1="926.4" x2="1855" y2="926.4" stroke="#2e282c" stroke-width="1.5"/><line x1="143" y1="934" x2="143" y2="948" stroke="#3a3a3a" stroke-width="1.6"/><line x1="804" y1="934" x2="804" y2="948" stroke="#3a3a3a" stroke-width="1.6"/><line x1="1465" y1="934" x2="1465" y2="948" stroke="#3a3a3a" stroke-width="1.6"/>
<path d="M281.0,289.0 C281.3,294.2 281.8,310.3 283.0,320.0 C284.2,329.7 285.7,337.8 288.0,347.0 C290.3,356.2 293.7,366.5 297.0,375.0 C300.3,383.5 303.8,389.8 308.0,398.0 C312.2,406.2 316.8,415.5 322.0,424.0 C327.2,432.5 333.0,441.5 339.0,449.0 C345.0,456.5 351.2,463.0 358.0,469.0 C364.8,475.0 372.2,480.5 380.0,485.0 C387.8,489.5 395.5,493.3 405.0,496.0 C414.5,498.7 425.7,500.7 437.0,501.0 C448.3,501.3 460.5,500.5 473.0,498.0 C485.5,495.5 497.0,492.7 512.0,486.0 C527.0,479.3 546.8,469.0 563.0,458.0 C579.2,447.0 595.8,431.3 609.0,420.0 C622.2,408.7 632.3,403.3 642.0,390.0 C651.7,376.7 659.7,356.8 667.0,340.0 C674.3,323.2 682.8,297.5 686.0,289.0" fill="none" stroke="#c08620" stroke-width="1.8" stroke-linejoin="round"/>
<path d="M890.0,576.0 C905.8,576.8 933.3,582.7 950.0,585.0 C966.7,587.3 973.5,588.7 990.0,590.0 C1006.5,591.3 1032.7,591.8 1049.0,593.0 C1065.3,594.2 1076.5,594.8 1088.0,597.0 C1099.5,599.2 1108.0,601.9 1118.0,606.5 C1128.0,611.1 1139.7,617.4 1148.0,624.5 C1156.3,631.6 1162.7,640.9 1168.0,649.0 C1173.3,657.1 1175.8,663.8 1180.0,673.0 C1184.2,682.2 1190.4,697.5 1193.0,704.0 C1195.6,710.5 1195.5,709.2 1195.5,712.0 C1195.5,714.8 1197.9,710.8 1193.0,720.5 C1188.1,730.2 1178.0,750.9 1166.0,770.0 C1154.0,789.1 1137.7,817.5 1121.0,835.0 C1104.3,852.5 1080.0,864.5 1066.0,875.0 C1052.0,885.5 1046.2,892.2 1037.0,898.0 C1027.8,903.8 1019.5,905.8 1011.0,910.0 C1002.5,914.2 994.5,920.2 986.0,923.0 C977.5,925.8 972.5,925.2 960.0,927.0 C947.5,928.8 926.3,932.8 911.0,934.0 C895.7,935.2 885.7,936.7 868.0,934.0 C850.3,931.3 820.3,921.8 805.0,918.0 C789.7,914.2 789.5,916.7 776.0,911.0 C762.5,905.3 744.7,896.7 724.0,884.0 C703.3,871.3 673.5,852.8 652.0,835.0 C630.5,817.2 608.8,792.8 595.0,777.0 C581.2,761.2 577.2,752.5 569.0,740.0 C560.8,727.5 551.1,712.7 546.0,702.0 C540.9,691.3 539.5,682.3 538.5,676.0 C537.5,669.7 539.8,666.0 540.0,664.0 C543.8,659.2 553.8,643.0 563.0,635.0 C572.2,627.0 582.5,621.3 595.0,616.0 C607.5,610.7 624.2,606.4 638.0,603.0 C651.8,599.6 664.7,597.2 678.0,595.5 C691.3,593.8 704.8,593.5 718.0,592.5 C731.2,591.5 742.5,589.9 757.0,589.5 C771.5,589.1 788.7,591.6 805.0,590.0 C821.3,588.4 840.8,582.3 855.0,580.0 C869.2,577.7 874.2,575.2 890.0,576.0 Z" fill="none" stroke="#c08620" stroke-width="1.8" stroke-linejoin="round"/>
<path d="M78.0,779.0 C81.3,777.2 91.0,771.3 98.0,768.0 C105.0,764.7 112.8,761.3 120.0,759.0 C127.2,756.7 127.5,755.3 141.0,754.0 C154.5,752.7 181.3,752.0 201.0,751.0 C220.7,750.0 246.0,748.3 259.0,748.0 C272.0,747.7 272.8,746.0 279.0,749.0 C285.2,752.0 291.7,758.8 296.0,766.0 C300.3,773.2 302.8,780.5 305.0,792.0 C307.2,803.5 309.0,820.7 309.0,835.0 C309.0,849.3 305.8,861.5 305.0,878.0 C304.2,894.5 304.2,924.7 304.0,934.0" fill="none" stroke="#c08620" stroke-width="1.8" stroke-linejoin="round"/>
<path d="M78.0,128.0 C79.3,128.1 81.0,127.0 86.0,128.7 C91.0,130.4 102.7,136.1 108.0,138.0 C113.3,139.9 112.2,138.2 118.0,140.0 C123.8,141.8 138.8,147.1 143.0,148.5 C143.8,148.5 145.7,147.6 148.0,148.5 C150.3,149.4 153.7,152.4 157.0,154.0 C160.3,155.6 161.9,156.7 168.0,158.0 C174.1,159.3 167.3,156.0 193.5,162.0 C219.7,168.0 298.1,187.2 325.0,194.0 C351.9,200.8 350.0,201.5 355.0,203.0 C359.2,202.4 361.0,201.5 380.0,199.5 C399.0,197.5 446.3,192.6 469.0,191.0 C491.7,189.4 501.7,190.5 516.0,190.0 C530.3,189.5 546.8,188.2 555.0,188.0 C563.2,187.8 559.7,187.8 565.0,189.0 C570.3,190.2 582.0,194.2 587.0,195.5 C592.0,196.8 581.7,197.2 595.0,196.5 C608.3,195.8 652.3,191.4 667.0,191.0 C681.7,190.6 677.0,192.5 683.0,194.0 C689.0,195.5 699.7,199.0 703.0,200.0 C704.2,199.5 700.0,196.8 710.0,197.0 C720.0,197.2 752.7,199.8 763.0,201.0 C773.3,202.2 766.2,203.2 772.0,204.0 C777.8,204.8 793.7,205.7 798.0,206.0 C799.2,205.5 801.8,204.7 805.0,203.0 C808.2,201.3 808.7,199.5 817.0,196.0 C825.3,192.5 837.0,186.2 855.0,182.0 C873.0,177.8 907.5,172.7 925.0,171.0 C942.5,169.3 937.5,172.0 960.0,172.0 C982.5,172.0 1039.2,171.3 1060.0,171.0 C1080.8,170.7 1068.3,169.8 1085.0,170.0 C1101.7,170.2 1130.8,168.7 1160.0,172.0 C1189.2,175.3 1230.8,184.3 1260.0,190.0 C1289.2,195.7 1305.0,200.0 1335.0,206.0 C1365.0,212.0 1413.3,220.3 1440.0,226.0 C1466.7,231.7 1470.0,234.0 1495.0,240.0 C1520.0,246.0 1565.0,255.8 1590.0,262.0 C1615.0,268.2 1625.8,272.2 1645.0,277.0 C1664.2,281.8 1685.0,286.5 1705.0,291.0 C1725.0,295.5 1742.3,299.8 1765.0,304.0 C1787.7,308.2 1828.3,314.0 1841.0,316.0" fill="none" stroke="#3e2e30" stroke-width="1.25" />
<path d="M78.5,52 V934.5 H1841 V52" fill="none" stroke="#4a4548" stroke-width="2"/>
<line x1="1069" y1="176" x2="941" y2="450" stroke="#000" stroke-width="4.5" stroke-linecap="round"/>
<rect x="1060.5" y="161" width="20" height="20" rx="4" transform="rotate(45 1070.5 171)" fill="#000"/>
<circle cx="1071" cy="170" r="0.9" fill="#888"/>
<rect x="379" y="891" width="222" height="13" fill="#000"/>
<text x="80.5" y="26"  font-size="22" font-weight="bold" fill="#111" text-anchor="start" textLength="21.5" lengthAdjust="spacingAndGlyphs" >W</text>
<text x="1830" y="26"  font-size="22" font-weight="bold" fill="#111" text-anchor="start" textLength="13" lengthAdjust="spacingAndGlyphs" >E</text>
<text x="1024.5" y="133.8"  font-size="25.5" font-weight="bold" fill="#000" text-anchor="start" textLength="126" lengthAdjust="spacingAndGlyphs" >PCDDH03</text>
<text x="404.5" y="378.2"  font-size="25.5" font-weight="bold" fill="#9e2e16" text-anchor="start" textLength="132" lengthAdjust="spacingAndGlyphs" >MAG HIGH</text>
<text x="835.5" y="743.5"  font-size="25.5" font-weight="bold" fill="#a82814" text-anchor="start" textLength="131" lengthAdjust="spacingAndGlyphs" >MAG HIGH</text>
<text x="457.5" y="884.8"  font-size="24.5" font-weight="bold" fill="#000" text-anchor="start" textLength="71" lengthAdjust="spacingAndGlyphs" >300m</text>
<text x="15" y="271"  font-size="17.5" font-weight="normal" fill="#262626" text-anchor="start" textLength="35" lengthAdjust="spacingAndGlyphs" >4350</text>
<text x="1870" y="271"  font-size="17.5" font-weight="normal" fill="#262626" text-anchor="start" textLength="35" lengthAdjust="spacingAndGlyphs" >4350</text>
<text x="15" y="493"  font-size="17.5" font-weight="normal" fill="#262626" text-anchor="start" textLength="35" lengthAdjust="spacingAndGlyphs" >4100</text>
<text x="1870" y="493"  font-size="17.5" font-weight="normal" fill="#262626" text-anchor="start" textLength="35" lengthAdjust="spacingAndGlyphs" >4100</text>
<text x="15" y="713"  font-size="17.5" font-weight="normal" fill="#262626" text-anchor="start" textLength="35" lengthAdjust="spacingAndGlyphs" >3850</text>
<text x="1870" y="713"  font-size="17.5" font-weight="normal" fill="#262626" text-anchor="start" textLength="35" lengthAdjust="spacingAndGlyphs" >3850</text>
<text x="15" y="933"  font-size="17.5" font-weight="normal" fill="#262626" text-anchor="start" textLength="35" lengthAdjust="spacingAndGlyphs" >3600</text>
<text x="1870" y="933"  font-size="17.5" font-weight="normal" fill="#262626" text-anchor="start" textLength="35" lengthAdjust="spacingAndGlyphs" >3600</text>
<text x="103" y="980.8"  font-size="17.5" font-weight="normal" fill="#262626" text-anchor="start" textLength="71" lengthAdjust="spacingAndGlyphs" >x: 336900</text>
<text x="103" y="1002.5"  font-size="17.5" font-weight="normal" fill="#262626" text-anchor="start" textLength="79" lengthAdjust="spacingAndGlyphs" >y: 8297532</text>
<text x="765" y="980.8"  font-size="17.5" font-weight="normal" fill="#262626" text-anchor="start" textLength="71" lengthAdjust="spacingAndGlyphs" >x: 337650</text>
<text x="765" y="1002.5"  font-size="17.5" font-weight="normal" fill="#262626" text-anchor="start" textLength="79" lengthAdjust="spacingAndGlyphs" >y: 8297532</text>
<text x="1426" y="980.8"  font-size="17.5" font-weight="normal" fill="#262626" text-anchor="start" textLength="71" lengthAdjust="spacingAndGlyphs" >x: 338400</text>
<text x="1426" y="1002.5"  font-size="17.5" font-weight="normal" fill="#262626" text-anchor="start" textLength="79" lengthAdjust="spacingAndGlyphs" >y: 8297532</text>
<rect x="1354" y="709.5" width="482" height="221" fill="#fff" stroke="#a29c9e" stroke-width="1.6"/><text x="1371.5" y="751.5"  font-size="27.5" font-weight="bold" fill="#1a1a1a" text-anchor="start" textLength="179" lengthAdjust="spacingAndGlyphs" >Chargeability</text><text x="1616" y="751.5"  font-size="27.5" font-weight="bold" fill="#1a1a1a" text-anchor="start" textLength="141" lengthAdjust="spacingAndGlyphs" >Resistivity</text><text x="1371.5" y="788.6"  font-size="24.5" font-weight="normal" fill="#1a1a1a" text-anchor="start" textLength="65" lengthAdjust="spacingAndGlyphs" >mV/V</text><text x="1615.5" y="788.6"  font-size="24.5" font-weight="normal" fill="#1a1a1a" text-anchor="start" textLength="82" lengthAdjust="spacingAndGlyphs" >ohm.m</text><rect x="1370" y="796" width="38" height="38" fill="#f050dc"/><rect x="1615.5" y="796.5" width="37" height="37" fill="#3c3cf0" stroke="#333" stroke-width="1.6"/><text x="1423.5" y="824"  font-size="25" font-weight="normal" fill="#111" text-anchor="start" textLength="77" lengthAdjust="spacingAndGlyphs" >&gt; 25.0</text><text x="1668.5" y="824"  font-size="25" font-weight="normal" fill="#111" text-anchor="start" textLength="77" lengthAdjust="spacingAndGlyphs" >&lt; 50.0</text><rect x="1370" y="841" width="38" height="38" fill="#fc3434"/><rect x="1615.5" y="841.5" width="37" height="37" fill="#5aa8f4" stroke="#333" stroke-width="1.6"/><text x="1423.5" y="869"  font-size="25" font-weight="normal" fill="#111" text-anchor="start" textLength="134" lengthAdjust="spacingAndGlyphs" >18.0 &#8211; 25.0</text><text x="1668.5" y="869"  font-size="25" font-weight="normal" fill="#111" text-anchor="start" textLength="148" lengthAdjust="spacingAndGlyphs" >50.0 &#8211; 100.0</text><rect x="1370" y="886" width="38" height="38" fill="#fca43c"/><rect x="1615.5" y="886.5" width="37" height="37" fill="#a8d0e0" stroke="#333" stroke-width="1.6"/><text x="1423.5" y="914"  font-size="25" font-weight="normal" fill="#111" text-anchor="start" textLength="134" lengthAdjust="spacingAndGlyphs" >15.0 &#8211; 18.0</text><text x="1668.5" y="914"  font-size="25" font-weight="normal" fill="#111" text-anchor="start" textLength="162" lengthAdjust="spacingAndGlyphs" >100.0 &#8211; 200.0</text>
</svg>
</body></html>
